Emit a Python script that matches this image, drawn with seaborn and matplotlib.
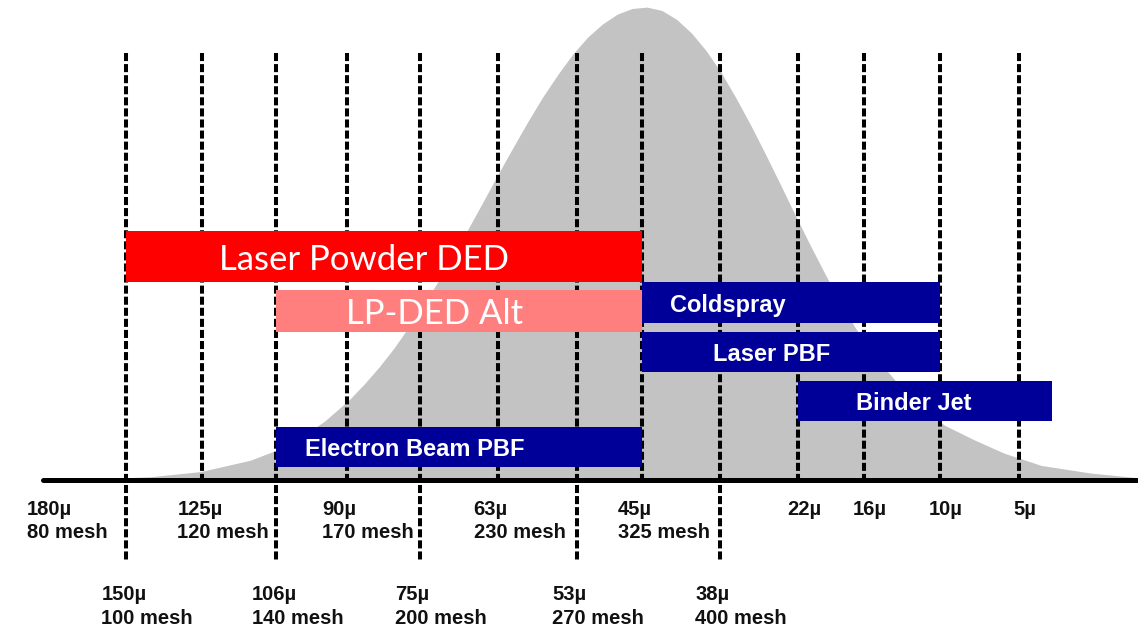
import numpy as np
import matplotlib
matplotlib.use("Agg")
import matplotlib.pyplot as plt
import seaborn as sns

# Sieve sizes along the axis (coarse -> fine), with mesh numbers where shown
sieve_um = [180, 150, 125, 106, 90, 75, 63, 53, 45, 38, 22, 16, 10, 5]
sieve_mesh = [80, 100, 120, 140, 170, 200, 230, 270, 325, 400, None, None, None, None]
# where each sieve sits on the chart's (ordinal) size axis
sieve_pos = [0, 1.0, 2.02, 3.02, 3.97, 4.95, 6.0, 7.06, 7.94, 8.98, 10.03, 10.92, 11.94, 13.0]
lower_row = [150, 106, 75, 53, 38]  # labels printed on the second row

# Powder size distribution outline (position on the size axis, relative height)
curve_pos = [-0.12, 0.65, 1.32, 2.0, 2.67, 3.0, 3.34, 3.67,
             4.0, 4.2, 4.4, 4.6, 4.8, 5.0, 5.2, 5.4, 5.6, 5.8,
             6.0, 6.2, 6.4, 6.6, 6.8, 7.0, 7.2, 7.4, 7.6, 7.8,
             8.0, 8.2, 8.4, 8.6, 8.8, 9.0, 9.2, 9.4, 9.6, 9.8,
             10.0, 10.2, 10.4, 10.6, 10.8, 11.0, 11.2, 11.4, 11.6, 11.8,
             12.0, 12.4, 12.8, 13.3, 13.96, 14.6]
curve_h = [0.0, 0.003, 0.007, 0.018, 0.042, 0.062, 0.089, 0.125,
           0.170, 0.203, 0.239, 0.279, 0.324, 0.371, 0.422, 0.476, 0.532, 0.589,
           0.647, 0.703, 0.758, 0.810, 0.857, 0.900, 0.936, 0.964, 0.985, 0.997,
           1.0, 0.993, 0.974, 0.945, 0.907, 0.861, 0.807, 0.749, 0.687, 0.623,
           0.558, 0.495, 0.434, 0.376, 0.322, 0.277, 0.236, 0.199, 0.167, 0.140,
           0.116, 0.085, 0.057, 0.031, 0.015, 0.005]

# Processes and their powder size windows (positions on the size axis)
processes = ["Laser Powder DED", "LP-DED Alt", "Coldspray", "Laser PBF",
             "Binder Jet", "Electron Beam PBF"]
proc_start = [1.0, 3.02, 7.94, 7.94, 10.03, 3.02]
proc_end = [7.94, 7.94, 11.94, 11.94, 13.45, 7.94]

# layout / style
bar_y = [0.4725, 0.357, 0.375, 0.2706, 0.167, 0.0698]
bar_h = [0.108, 0.089, 0.0867, 0.0846, 0.0846, 0.0846]
bar_colors = ["#ff0000", "#ff7f7f", "#000099", "#000099", "#000099", "#000099"]
label_x = [4.20, 5.14, 9.09, 9.67, 11.58, 4.88]

sns.set_style("white")

fig = plt.figure(figsize=(11.38, 6.31), dpi=100)
ax = fig.add_axes([0, 0, 1, 1])
ax.set_xlim(-0.694, 14.60)
ax.set_ylim(-0.319, 1.015)
ax.axis("off")

# distribution
ax.fill_between(curve_pos, 0, curve_h, color="#c3c3c3", lw=0, zorder=1)

# dashed sieve lines
for p, um in zip(sieve_pos, sieve_um):
    if um == 180:
        continue
    bottom = -0.169 if um in lower_row else 0
    ax.plot([p, p], [0.903, bottom], color="black", lw=2.9,
            linestyle=(0, (2.0, 0.75)), dash_capstyle="butt", zorder=2)

# baseline
ax.plot([-0.116, 14.6], [0, 0], color="black", lw=3.6,
        solid_capstyle="round", zorder=3)

# process bars
for i, name in enumerate(processes):
    ax.barh(bar_y[i], proc_end[i] - proc_start[i], left=proc_start[i],
            height=bar_h[i], color=bar_colors[i], lw=0, zorder=4)
    if bar_colors[i] == "#000099":
        ax.text(label_x[i], bar_y[i], name, color="white", ha="center",
                va="center_baseline", fontsize=17, fontweight="bold",
                family=["Liberation Sans", "DejaVu Sans"], zorder=5)
    else:
        ax.text(label_x[i], bar_y[i], name, color="white", ha="center",
                va="center_baseline", fontsize=25,
                family=["Lato", "DejaVu Sans"], zorder=5)

# sieve labels
tick_font = ["Liberation Sans", "DejaVu Sans"]
for p, um, mesh in zip(sieve_pos, sieve_um, sieve_mesh):
    y = -0.222 if um in lower_row else -0.041
    if mesh is None:
        ax.text(p + 0.08, y, f"{um}µ", ha="center", va="top", fontsize=14.5,
                fontweight="bold", family=tick_font, color="#111111")
    else:
        ax.text(p - 0.33, y, f"{um}µ\n{mesh} mesh", ha="left", va="top",
                fontsize=14.5, fontweight="bold", family=tick_font,
                linespacing=1.33, color="#111111")

fig.savefig("out.png", dpi=100)
